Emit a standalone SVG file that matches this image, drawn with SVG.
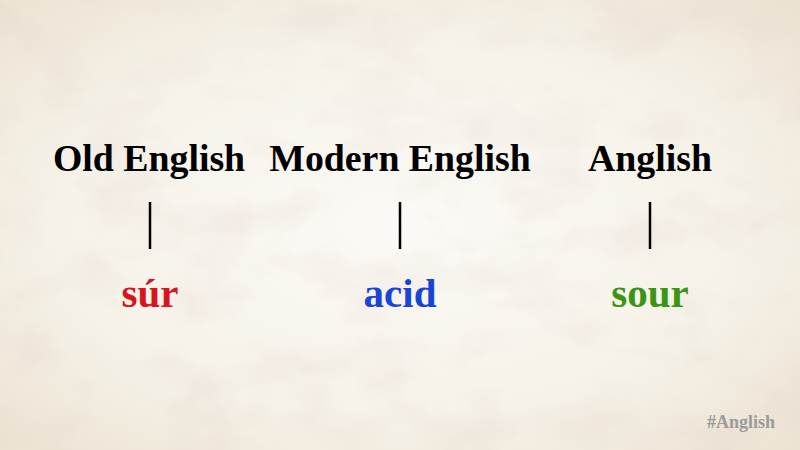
<svg xmlns="http://www.w3.org/2000/svg" width="800" height="450" viewBox="0 0 800 450">
  <defs>
    <radialGradient id="bg" cx="50%" cy="50%" r="70%">
      <stop offset="0" stop-color="#fbfaf6"/>
      <stop offset="0.6" stop-color="#f6f2e9"/>
      <stop offset="1" stop-color="#ece3d3"/>
    </radialGradient>
    <filter id="paper" x="0" y="0" width="100%" height="100%">
      <feTurbulence type="fractalNoise" baseFrequency="0.012 0.02" numOctaves="4" seed="7" result="n"/>
      <feColorMatrix in="n" type="matrix" values="0 0 0 0 0.78  0 0 0 0 0.66  0 0 0 0 0.60  0 0 0 -1.6 0.9" result="c"/>
      <feComposite in="c" in2="SourceGraphic" operator="in"/>
    </filter>
    <style>
      .hd { font-family: "Liberation Serif", "Times New Roman", serif; font-weight: bold; font-size: 37.8px; fill: #000; text-anchor: middle; }
      .wd { font-family: "Liberation Serif", "Times New Roman", serif; font-weight: bold; font-size: 41px; text-anchor: middle; }
      .tag { font-family: "Liberation Serif", "Times New Roman", serif; font-weight: bold; font-size: 18px; fill: #9a9a9a; text-anchor: end; }
      .conn { stroke: #000; stroke-width: 2.5; fill: none; }
    </style>
  </defs>
  <rect width="800" height="450" fill="url(#bg)"/>
  <rect width="800" height="450" fill="#fff" filter="url(#paper)" opacity="0.45"/>

  <g id="old-english">
    <text class="hd" x="149" y="171">Old English</text>
  </g>
  <g id="modern-english">
    <text class="hd" x="400" y="171">Modern English</text>
  </g>
  <g id="anglish">
    <text class="hd" x="650" y="171">Anglish</text>
  </g>
  <g id="sur">
    <text class="wd" x="150" y="307" fill="#d9151c">súr</text>
  </g>
  <g id="acid">
    <text class="wd" x="400" y="307" fill="#1746d6">acid</text>
  </g>
  <g id="sour">
    <text class="wd" x="650" y="307" fill="#3a9512">sour</text>
  </g>

  <g id="connectors">
    <line class="conn" x1="150" y1="202" x2="150" y2="249"/>
    <line class="conn" x1="400" y1="202" x2="400" y2="249"/>
    <line class="conn" x1="650" y1="202" x2="650" y2="249"/>
  </g>

  <g id="hashtag">
    <text class="tag" x="775" y="428">#Anglish</text>
  </g>
</svg>
